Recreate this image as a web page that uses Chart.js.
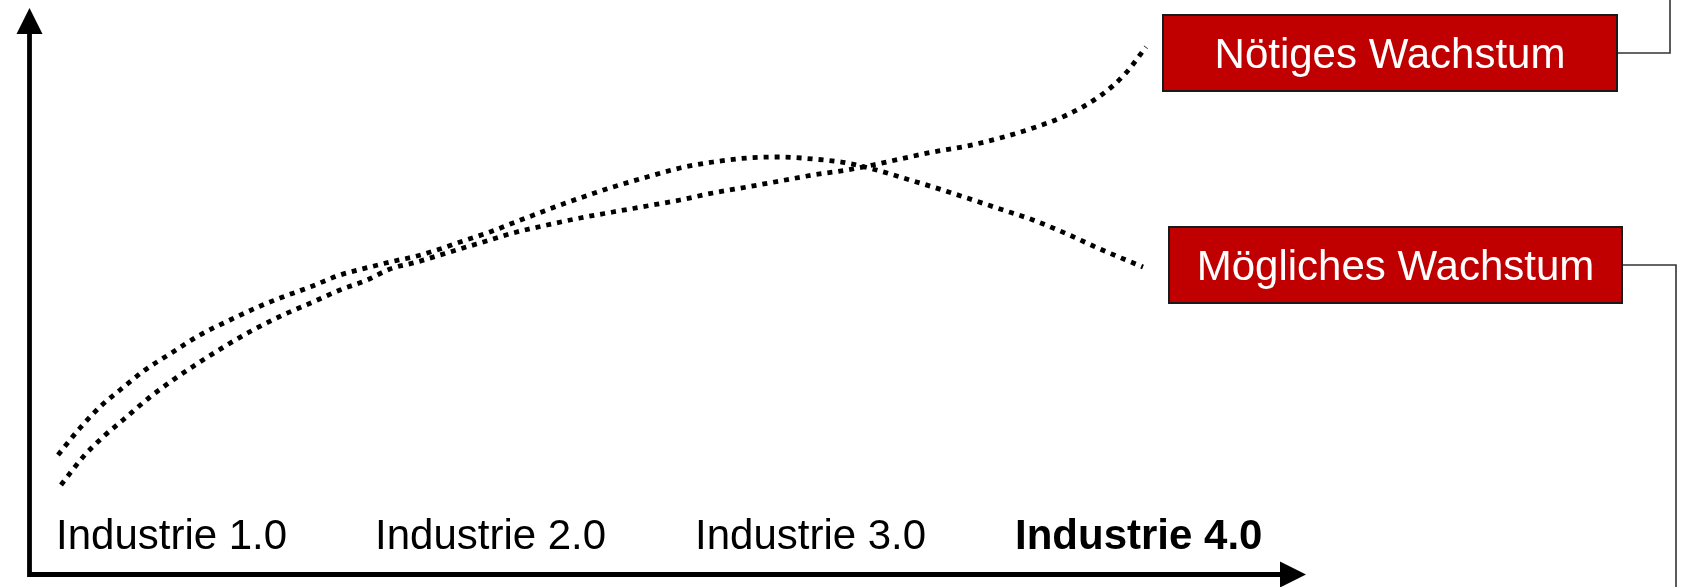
<!DOCTYPE html>
<html>
<head>
<meta charset="utf-8">
<script src="https://cdn.jsdelivr.net/npm/chart.js@4/dist/chart.umd.min.js"></script>
<style>
  html, body { margin: 0; padding: 0; background: #ffffff; }
  #wrap { width: 1681px; height: 587px; position: relative; }
</style>
</head>
<body>
<div id="wrap"><canvas id="c" width="1681" height="587"></canvas></div>
<script>
// ---- data ----
const categories = ['Industrie 1.0', 'Industrie 2.0', 'Industrie 3.0', 'Industrie 4.0'];
const categoryX = [2.6, 34.5, 66.5, 98.5];
const categoryBold = [false, false, false, true];

const seriesNames = ['Nötiges Wachstum', 'Mögliches Wachstum'];

const noetigesX = [3.1, 5.3, 7.3, 9.3, 12.0, 14.3, 17.0, 19.7, 22.3, 25.3, 28.3, 31.0, 33.7, 36.0, 38.7, 41.0, 43.3, 46.0, 48.3, 51.7, 55.0, 58.3, 61.7, 65.0, 68.3, 71.7, 75.0, 78.3, 81.7, 84.3, 87.0, 90.3, 93.7, 97.0, 100.3, 103.7, 107.0, 109.5, 111.6];
const noetigesY = [8.9, 11.7, 13.7, 15.4, 17.7, 19.4, 21.2, 22.9, 24.4, 25.9, 27.2, 28.4, 29.4, 30.5, 31.2, 31.9, 32.6, 33.4, 34.1, 34.9, 35.6, 36.2, 36.8, 37.4, 38.1, 38.7, 39.3, 39.9, 40.4, 40.9, 41.5, 42.2, 42.8, 43.6, 44.6, 45.9, 47.8, 50.0, 52.7];

const moeglichesX = [2.8, 5.0, 7.2, 9.0, 11.5, 14.3, 17.0, 20.0, 22.8, 25.0, 28.0, 31.0, 34.0, 36.0, 38.7, 41.0, 43.3, 46.0, 48.3, 51.7, 55.0, 58.3, 61.7, 65.0, 68.3, 71.7, 75.0, 78.3, 81.7, 85.0, 87.0, 90.3, 93.7, 97.0, 100.3, 103.7, 107.0, 111.3];
const moeglichesY = [11.9, 14.6, 16.9, 18.4, 20.4, 22.2, 23.9, 25.4, 26.7, 27.6, 28.7, 29.9, 30.7, 31.2, 31.8, 32.5, 33.3, 34.2, 35.1, 36.4, 37.6, 38.7, 39.7, 40.6, 41.2, 41.6, 41.7, 41.5, 41.1, 40.3, 39.7, 38.7, 37.6, 36.5, 35.4, 34.0, 32.5, 30.7];

// ---- build ----
function pts(xs, ys) { return xs.map((x, i) => ({ x: x, y: ys[i] })); }

const FONT = '"Liberation Sans", Arial, Helvetica, sans-serif';

const boxes = [
  { name: seriesNames[0], left: 1163, top: 15, w: 454, h: 76, lineX: 1670, toTop: true },
  { name: seriesNames[1], left: 1169, top: 227, w: 453, h: 76, lineX: 1676, toTop: false }
];

const decorPlugin = {
  id: 'decor',
  beforeDatasetsDraw(chart) {
    const ctx = chart.ctx;
    const xs = chart.scales.x, ys = chart.scales.y;
    const x0 = xs.getPixelForValue(0) - 0.5;
    const y0 = ys.getPixelForValue(0) + 0.5;
    ctx.save();
    ctx.strokeStyle = '#000';
    ctx.fillStyle = '#000';
    ctx.lineWidth = 4.8;
    ctx.lineCap = 'butt';
    ctx.beginPath();
    ctx.moveTo(x0, 33);
    ctx.lineTo(x0, y0 + 2.4);
    ctx.moveTo(x0 - 2.4, y0);
    ctx.lineTo(1282, y0);
    ctx.stroke();
    ctx.beginPath();
    ctx.moveTo(x0, 8);
    ctx.lineTo(x0 - 13, 34);
    ctx.lineTo(x0 + 13, 34);
    ctx.closePath();
    ctx.fill();
    ctx.beginPath();
    ctx.moveTo(1306, y0);
    ctx.lineTo(1280, y0 - 13);
    ctx.lineTo(1280, y0 + 13);
    ctx.closePath();
    ctx.fill();
    ctx.textBaseline = 'alphabetic';
    ctx.textAlign = 'left';
    categories.forEach((c, i) => {
      ctx.font = (categoryBold[i] ? 'bold ' : '') + '42px ' + FONT;
      ctx.fillText(c, xs.getPixelForValue(categoryX[i]), y0 - 26);
    });
    ctx.restore();
  },
  afterDatasetsDraw(chart) {
    const ctx = chart.ctx;
    ctx.save();
    boxes.forEach(b => {
      const mid = b.top + b.h / 2;
      ctx.strokeStyle = '#333';
      ctx.lineWidth = 1.6;
      ctx.beginPath();
      ctx.moveTo(b.left + b.w, mid);
      ctx.lineTo(b.lineX, mid);
      ctx.lineTo(b.lineX, b.toTop ? 0 : 587);
      ctx.stroke();
      ctx.fillStyle = '#C00000';
      ctx.fillRect(b.left, b.top, b.w, b.h);
      ctx.strokeStyle = '#1a1a1a';
      ctx.lineWidth = 2;
      ctx.strokeRect(b.left, b.top, b.w, b.h);
      ctx.fillStyle = '#ffffff';
      ctx.font = '42px ' + FONT;
      ctx.textAlign = 'center';
      ctx.textBaseline = 'alphabetic';
      ctx.fillText(b.name, b.left + b.w / 2, mid + 15);
    });
    ctx.restore();
  }
};

const dsStyle = {
  borderColor: '#000000',
  borderWidth: 4.8,
  borderDash: [5, 6],
  borderCapStyle: 'butt',
  pointRadius: 0,
  pointHoverRadius: 0,
  fill: false,
  cubicInterpolationMode: 'monotone'
};

new Chart(document.getElementById('c'), {
  type: 'line',
  data: {
    datasets: [
      Object.assign({ label: seriesNames[0], data: pts(noetigesX, noetigesY) }, dsStyle),
      Object.assign({ label: seriesNames[1], data: pts(moeglichesX, moeglichesY) }, dsStyle)
    ]
  },
  options: {
    responsive: false,
    animation: false,
    events: [],
    layout: { padding: { left: 30, right: 451, top: 0, bottom: 13 } },
    plugins: { legend: { display: false }, tooltip: { enabled: false } },
    scales: {
      x: { type: 'linear', min: 0, max: 120, display: false },
      y: { type: 'linear', min: 0, max: 57.4, display: false }
    }
  },
  plugins: [decorPlugin]
});
</script>
</body>
</html>
